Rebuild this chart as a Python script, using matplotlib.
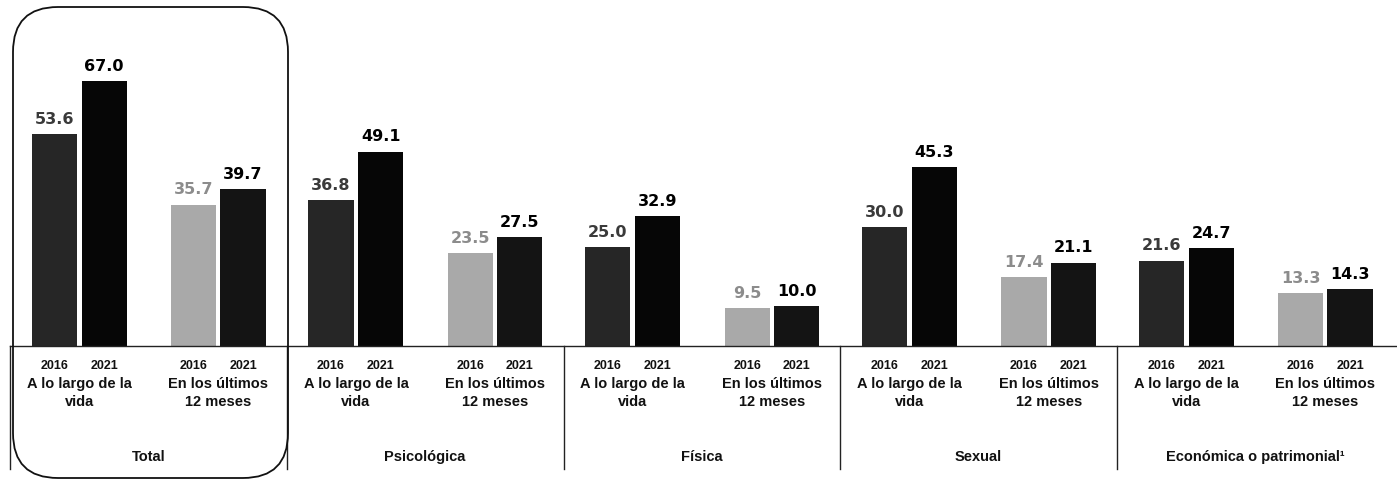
import matplotlib
matplotlib.use("Agg")
import matplotlib.pyplot as plt
from matplotlib.patches import FancyBboxPatch
from matplotlib.transforms import IdentityTransform, blended_transform_factory

# ── Data ─────────────────────────────────────────────
groups = ["Total", "Psicológica", "Física", "Sexual", "Económica o patrimonial¹"]
periods = ["A lo largo de la\nvida", "En los últimos\n12 meses"]
years = ["2016", "2021"]
vida_2016 = [53.6, 36.8, 25.0, 30.0, 21.6]
vida_2021 = [67.0, 49.1, 32.9, 45.3, 24.7]
meses_2016 = [35.7, 23.5, 9.5, 17.4, 13.3]
meses_2021 = [39.7, 27.5, 10.0, 21.1, 14.3]

W, H = 1397, 481
fig = plt.figure(figsize=(W / 100, H / 100), dpi=100)
base_px = 347
ax = fig.add_axes([10 / W, (H - base_px) / H, (W - 10) / W, base_px / H])
gw = 276.75
ax.set_xlim(0, (W - 10) / gw)
ax.set_ylim(0, base_px / 3.955)
ax.axis("off")

offs = [0.16, 0.34, 0.664, 0.842]
bw = 0.163
series = [
    (vida_2016, "#262626", "#3a3a3a"),
    (vida_2021, "#060606", "#000000"),
    (meses_2016, "#a9a9a9", "#8c8c8c"),
    (meses_2021, "#141414", "#000000"),
]
for k, (vals, col, tcol) in enumerate(series):
    xs = [i + offs[k] for i in range(len(groups))]
    ax.bar(xs, vals, width=bw, color=col, linewidth=0)
    for x, v in zip(xs, vals):
        ax.annotate(f"{v:.1f}", (x, v), textcoords="offset points", xytext=(0, 6),
                    ha="center", va="bottom", fontsize=11.5, fontweight="bold",
                    color=tcol, family="DejaVu Sans")

ax.axhline(0, color="#222222", linewidth=1.0, clip_on=False)

tr = blended_transform_factory(ax.transData, fig.transFigure)
fy = lambda py: 1 - py / H
lbl = dict(ha="center", va="center", fontweight="bold", family="Liberation Sans",
           color="#111111", transform=tr)
for i, g in enumerate(groups):
    for k in range(4):
        ax.text(i + offs[k], fy(366), years[k % 2], fontsize=9, **lbl)
    for j, p in enumerate(periods):
        cx = i + (offs[2 * j] + offs[2 * j + 1]) / 2
        ax.text(cx, fy(393), p, fontsize=10.5, linespacing=1.35, **lbl)
    ax.text(i + 0.5, fy(457), g, fontsize=10.5, **lbl)
    ax.plot([i, i], [fy(base_px), fy(470)], color="#222222", linewidth=1.0,
            transform=tr, clip_on=False)

# rounded frame around "Total"
box = FancyBboxPatch((13 + 45, 2 + 45), 275 - 90, 471 - 90,
                     boxstyle="round,pad=45", transform=IdentityTransform(),
                     facecolor="none", edgecolor="#111111", linewidth=1.3)
fig.add_artist(box)

fig.savefig("out.png", dpi=100)
